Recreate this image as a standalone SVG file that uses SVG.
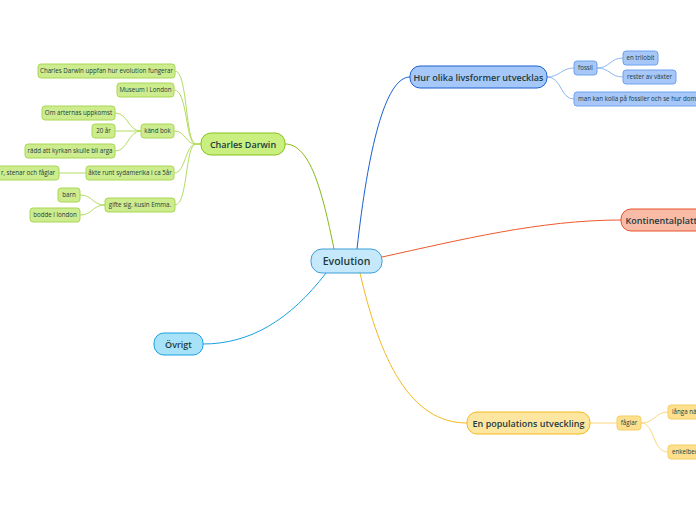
<svg xmlns="http://www.w3.org/2000/svg" width="696" height="520" viewBox="0 0 696 520">
<style>
text{font-family:"Open Sans","Noto Sans","Liberation Sans",sans-serif;fill:#1d3b40}
.t{font-size:9px;font-weight:600;text-anchor:middle}
.c{font-size:6.2px;text-anchor:middle}
.l{fill:none;stroke-width:1}
.g{fill:#cdec8e;stroke:#a8d655;stroke-width:1}
.b{fill:#a6c7f7;stroke:#6fa0ee;stroke-width:1}
.y{fill:#fde08e;stroke:#f6cd66;stroke-width:1}
</style>
<rect width="696" height="520" fill="#fff"/>
<g id="connectors">
<path class="l" stroke="#86b818" stroke-width="1.5" d="M285,144 C310,144 322,190 334,249"/>
<path class="l" stroke="#1a5fd0" stroke-width="1.5" d="M357,249 C368,150 385,77 410,77"/>
<path class="l" stroke="#ec5a2e" stroke-width="1.5" d="M382,257 C460,240 540,220 621,220"/>
<path class="l" stroke="#1aa0e0" stroke-width="1.5" d="M326,273 C290,320 250,344 203,344"/>
<path class="l" stroke="#f5b820" stroke-width="1.5" d="M360,273 C380,360 410,423 467,423"/>
<g stroke="#b4dc62">
<path class="l" d="M201,144 L196,144 C185,144 188,71 175,71"/>
<path class="l" d="M201,144 L196,144 C185,144 188,90 174,90"/>
<path class="l" d="M201,144 L196,144 C185,144 186,131 174,131"/>
<path class="l" d="M201,144 L196,144 C185,144 186,173 174,173"/>
<path class="l" d="M201,144 L196,144 C185,144 188,205 175,205"/>
<path class="l" d="M141,131 C128,131 128,113 115,113"/>
<path class="l" d="M141,131 L115,131"/>
<path class="l" d="M141,131 C128,131 128,151 115,151"/>
<path class="l" d="M86,173 L59,173"/>
<path class="l" d="M105,205 C92,205 93,195 80,195"/>
<path class="l" d="M105,205 C92,205 93,215 80,215"/>
</g>
<g stroke="#8fb6f2">
<path class="l" d="M547,77 C560,77 561,68 574,68"/>
<path class="l" d="M547,77 C562,77 560,99 574,99"/>
<path class="l" d="M597,68 C610,68 610,58 623,58"/>
<path class="l" d="M597,68 C610,68 610,77 623,77"/>
</g>
<g stroke="#fbd77e">
<path class="l" d="M590,423 L617,423"/>
<path class="l" d="M641,423 C655,423 655,412 668,412"/>
<path class="l" d="M641,423 C655,423 652,452 668,452"/>
</g>
</g>
<g id="evolution"><rect x="311" y="249" width="71" height="24" rx="11" fill="#c6e8fb" stroke="#3a9fd8"/><text class="t" x="346.5" y="265" style="font-size:10.5px">Evolution</text></g>
<g id="darwin"><rect x="201" y="133" width="84" height="22" rx="10" fill="#c8ef80" stroke="#86c11a"/><text class="t" x="243" y="147.5">Charles Darwin</text></g>
<g id="hur"><rect x="410" y="66" width="137" height="22" rx="10" fill="#a6c8f8" stroke="#1a5fd0"/><text class="t" x="478.5" y="80.5">Hur olika livsformer utvecklas</text></g>
<g id="kontinental"><rect x="621" y="209" width="90" height="22" rx="10" fill="#f9baa6" stroke="#e8502c"/><text class="t" x="666" y="223.5">Kontinentalplattor</text></g>
<g id="ovrigt"><rect x="154" y="333" width="49" height="22" rx="10" fill="#a8e2f8" stroke="#1aa0e0"/><text class="t" x="178.5" y="347.5">Övrigt</text></g>
<g id="population"><rect x="467" y="412" width="123" height="22" rx="10" fill="#fde7a0" stroke="#f5b820"/><text class="t" x="528.5" y="426.5">En populations utveckling</text></g>
<g id="uppfan"><rect class="g" x="38" y="64" width="137" height="14" rx="3"/><text class="c" x="106.5" y="73.3">Charles Darwin uppfan hur evolution fungerar</text></g>
<g id="museum"><rect class="g" x="117" y="83" width="57" height="14" rx="3"/><text class="c" x="145.5" y="92.3">Museum i London</text></g>
<g id="kandbok"><rect class="g" x="141" y="124" width="33" height="14" rx="3"/><text class="c" x="157.5" y="133.3">känd bok</text></g>
<g id="arternas"><rect class="g" x="42" y="106" width="73" height="14" rx="3"/><text class="c" x="78.5" y="115.3">Om arternas uppkomst</text></g>
<g id="ar20"><rect class="g" x="92" y="124" width="23" height="14" rx="3"/><text class="c" x="103.5" y="133.3">20 år</text></g>
<g id="radd"><rect class="g" x="25" y="144" width="90" height="14" rx="3"/><text class="c" x="70" y="153.3">rädd att kyrkan skulle bli arga</text></g>
<g id="akte"><rect class="g" x="86" y="166" width="88" height="14" rx="3"/><text class="c" x="130" y="175.3">åkte runt sydamerika i ca 5år</text></g>
<g id="stenar"><rect class="g" x="-10" y="166" width="69" height="14" rx="3"/><text class="c" x="28" y="175.3">r, stenar och fåglar</text></g>
<g id="gifte"><rect class="g" x="105" y="198" width="70" height="14" rx="3"/><text class="c" x="140" y="207.3">gifte sig. kusin Emma.</text></g>
<g id="barn"><rect class="g" x="58" y="188" width="22" height="14" rx="3"/><text class="c" x="69" y="197.3">barn</text></g>
<g id="bodde"><rect class="g" x="30" y="208" width="50" height="14" rx="3"/><text class="c" x="55" y="217.3">bodde i london</text></g>
<g id="fossil"><rect class="b" x="574" y="61" width="23" height="14" rx="3"/><text class="c" x="585.5" y="70.3">fossil</text></g>
<g id="trilobit"><rect class="b" x="623" y="51" width="35" height="14" rx="3"/><text class="c" x="640.5" y="60.3">en trilobit</text></g>
<g id="rester"><rect class="b" x="623" y="70" width="53" height="14" rx="3"/><text class="c" x="649.5" y="79.3">rester av växter</text></g>
<g id="mankan"><rect class="b" x="574" y="92" width="140" height="14" rx="3"/><text class="c" x="578" y="101.3" style="text-anchor:start">man kan kolla på fossiler och se hur dom utvecklats</text></g>
<g id="faglar"><rect class="y" x="617" y="416" width="24" height="14" rx="3"/><text class="c" x="629" y="425.3">fåglar</text></g>
<g id="langa"><rect class="y" x="668" y="405" width="60" height="14" rx="3"/><text class="c" x="672" y="414.3" style="text-anchor:start">långa näbbar</text></g>
<g id="enkel"><rect class="y" x="668" y="445" width="60" height="14" rx="3"/><text class="c" x="672" y="454.3" style="text-anchor:start">enkelbeckade</text></g>
</svg>
